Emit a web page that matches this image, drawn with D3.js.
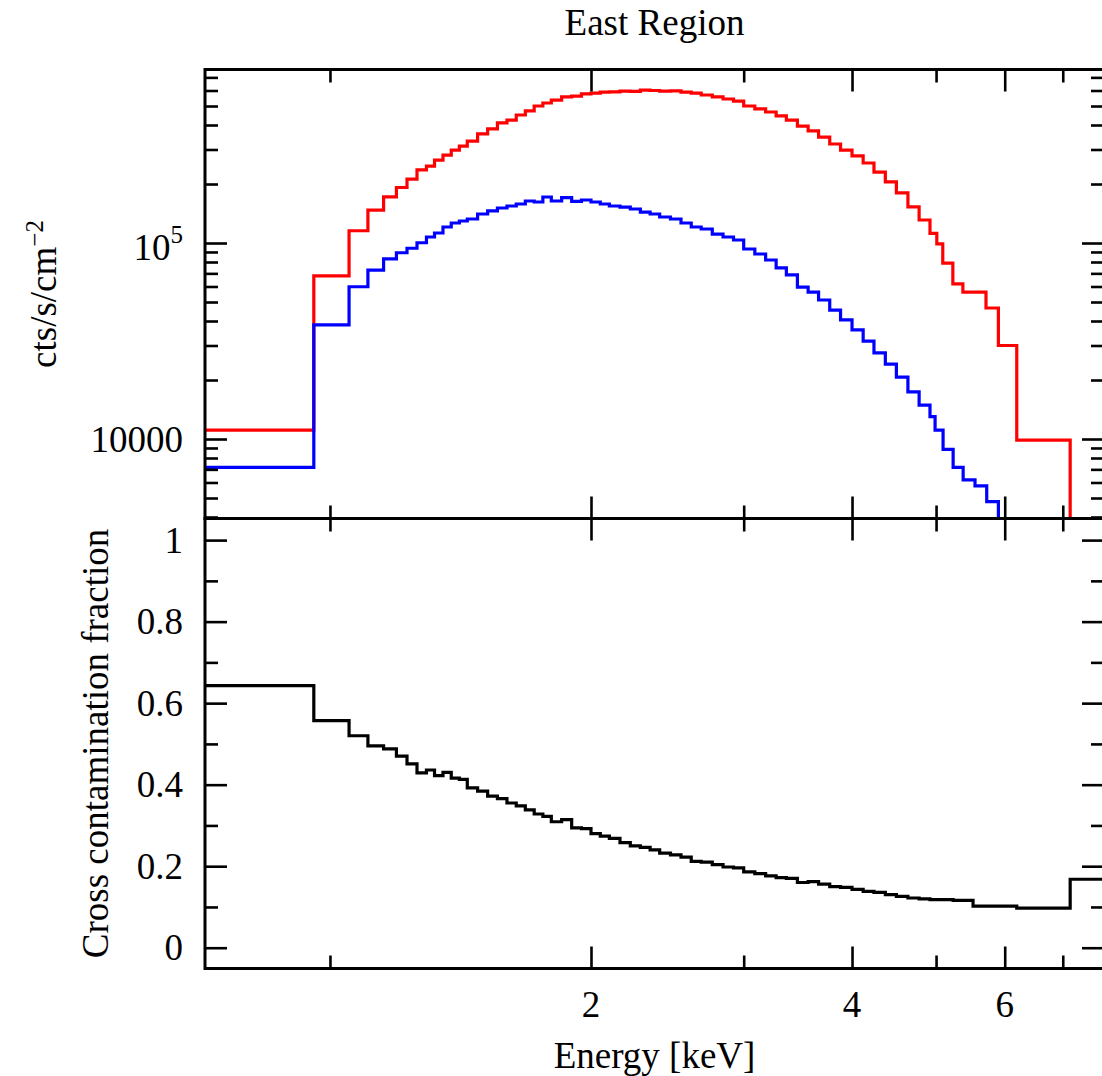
<!DOCTYPE html>
<html>
<head>
<meta charset="utf-8">
<script src="https://cdn.jsdelivr.net/npm/d3@7"></script>
<style>
  body { margin: 0; background: #fff; }
  svg, svg text, svg tspan { font-family: "Liberation Serif", "Times New Roman", Times, serif; }
</style>
</head>
<body>
<div id="chart"></div>
<script>
// bin edges (keV) shared by all three curves up to 4.92 keV
var binEdges = [0.7176, 0.958, 1.052, 1.106, 1.153, 1.193, 1.227, 1.26, 1.292,
  1.32, 1.35, 1.38, 1.41, 1.44, 1.48, 1.52, 1.56, 1.60, 1.64, 1.68, 1.72, 1.76, 1.80,
  1.85, 1.90, 1.95, 2.00, 2.05, 2.10, 2.16, 2.22, 2.28, 2.34, 2.40, 2.47, 2.54, 2.61,
  2.68, 2.76, 2.84, 2.92, 3.00, 3.09, 3.18, 3.27, 3.36, 3.46, 3.56, 3.66, 3.77, 3.88,
  4.00, 4.12, 4.24, 4.37, 4.50, 4.64, 4.78, 4.92];

// high energy bins differ for each curve
var redTailEdges = [5.01, 5.09, 5.228, 5.369, 5.709, 5.90, 6.195, 7.139, 7.81];
var blueTailEdges = [4.987, 5.094, 5.232, 5.373, 5.545, 5.72, 5.90, 7.81];
var fracTailEdges = [5.232, 5.516, 6.195, 7.139, 7.81];

var redRate = [11100, 67900, 115500, 147000, 172000, 192000, 212000, 236000,
  247000, 265000, 281000, 298000, 312000, 331000, 360000, 382000, 410000, 424000,
  450000, 472000, 500000, 518000, 536000, 556000, 562000, 576000, 582000, 589000,
  590000, 596000, 594000, 603000, 600000, 596000, 597000, 589000, 582000, 569000,
  556000, 543000, 530000, 500000, 483000, 466000, 445000, 424000, 395000, 373000,
  347000, 320000, 298000, 278000, 256000, 230000, 205000, 180000, 153000, 131000,
  112000, 99000, 79000, 61800, 56200, 46600, 30000, 9880, 3000];

var blueRate = [7170, 38200, 59800, 72800, 82900, 89200, 94000, 100300,
  107300, 112500, 120700, 126500, 129500, 132600, 140600, 145700, 150900, 154500,
  158100, 163800, 161900, 171700, 163800, 170500, 163000, 165700, 161900, 158100,
  154500, 152600, 149100, 143900, 140600, 135700, 132600, 126500, 120700, 117900,
  111100, 107300, 103600, 93200, 87900, 81900, 74600, 68700, 59600, 56200,
  51200, 45500, 40500, 36000, 31600, 27500, 24100, 20700, 17400, 14900,
  13000, 11100, 8860, 7170, 6180, 5760, 4790, 2500];

var fraction = [0.643, 0.557, 0.520, 0.495, 0.488, 0.470, 0.451, 0.429,
  0.436, 0.422, 0.430, 0.416, 0.413, 0.392, 0.384, 0.372, 0.366, 0.355,
  0.348, 0.338, 0.328, 0.322, 0.309, 0.314, 0.294, 0.292, 0.280, 0.274,
  0.268, 0.258, 0.250, 0.246, 0.240, 0.232, 0.228, 0.222, 0.212, 0.210,
  0.204, 0.198, 0.196, 0.186, 0.182, 0.176, 0.172, 0.170, 0.160, 0.162,
  0.156, 0.150, 0.148, 0.143, 0.138, 0.136, 0.130, 0.126, 0.122, 0.120,
  0.118, 0.116, 0.102, 0.097, 0.168];

var xMajor = [2, 4, 6];
var xMinor = [1, 3, 5, 7];
var rateMajor = [10000, 100000];
var rateMinor = [4000, 5000, 6000, 7000, 8000, 9000,
  20000, 30000, 40000, 50000, 60000, 70000, 80000, 90000,
  200000, 300000, 400000, 500000, 600000, 700000];
var fracMajor = [0, 0.2, 0.4, 0.6, 0.8, 1];
var fracMinor = [0.1, 0.3, 0.5, 0.7, 0.9];

function init() {

  var width = 1102;
  var height = 1076;
  var left = 205, right = 1104;
  var top1 = 69.5, bot1 = 518.5, top2 = 518.5, bot2 = 968.5;
  var fontSize = 37;
  var serif = "'Liberation Serif', 'Times New Roman', Times, serif";

  var x = d3.scaleLog().domain([0.7176, 7.81]).range([left, right]);
  var yRate = d3.scaleLog().domain([3930, 767800]).range([bot1, top1]);
  var yFrac = d3.scaleLinear().domain([-0.051, 1.053]).range([bot2, top2]);

  var svg = d3.select("#chart")
    .append("svg")
    .attr("width", width)
    .attr("height", height)
    .attr("font-family", serif);

  svg.append("rect").attr("width", width).attr("height", height).attr("fill", "#fff");

  var defs = svg.append("defs");
  defs.append("clipPath").attr("id", "clipTop")
    .append("rect").attr("x", left).attr("y", top1)
    .attr("width", right - left).attr("height", bot1 - top1);
  defs.append("clipPath").attr("id", "clipBot")
    .append("rect").attr("x", left).attr("y", top2)
    .attr("width", right - left).attr("height", bot2 - top2);

  function steps(edges, values) {
    var pts = values.map(function(v, i) { return [edges[i], v]; });
    pts.push([edges[values.length], values[values.length - 1]]);
    return pts;
  }

  function drawSteps(yScale, clip, edges, values, color) {
    var line = d3.line()
      .x(function(d) { return x(d[0]); })
      .y(function(d) { return yScale(d[1]); })
      .curve(d3.curveStepAfter);
    svg.append("path")
      .datum(steps(edges, values))
      .attr("clip-path", "url(#" + clip + ")")
      .attr("fill", "none")
      .attr("stroke", color)
      .attr("stroke-width", 3.2)
      .attr("d", line);
  }

  drawSteps(yRate, "clipTop", binEdges.concat(redTailEdges), redRate, "#ff0000");
  drawSteps(yRate, "clipTop", binEdges.concat(blueTailEdges), blueRate, "#0000ff");
  drawSteps(yFrac, "clipBot", binEdges.concat(fracTailEdges), fraction, "#000");

  // ticks, all pointing inwards
  function tickAxis(axis, values, size, tx, ty) {
    var g = svg.append("g")
      .attr("transform", "translate(" + tx + "," + ty + ")")
      .call(axis.tickValues(values).tickSize(-size).tickFormat(""));
    g.select(".domain").remove();
    g.selectAll(".tick line").attr("stroke", "#000").attr("stroke-width", 2.6);
    return g;
  }

  [[top1, bot1], [top2, bot2]].forEach(function(p) {
    tickAxis(d3.axisTop(x), xMajor, 22, 0, p[0]);
    tickAxis(d3.axisTop(x), xMinor, 13, 0, p[0]);
    tickAxis(d3.axisBottom(x), xMajor, 22, 0, p[1]);
    tickAxis(d3.axisBottom(x), xMinor, 13, 0, p[1]);
  });

  tickAxis(d3.axisLeft(yRate), rateMajor, 22, left, 0);
  tickAxis(d3.axisLeft(yRate), rateMinor, 13, left, 0);
  tickAxis(d3.axisRight(yRate), rateMajor, 22, right, 0);
  tickAxis(d3.axisRight(yRate), rateMinor, 13, right, 0);

  tickAxis(d3.axisLeft(yFrac), fracMajor, 22, left, 0);
  tickAxis(d3.axisLeft(yFrac), fracMinor, 13, left, 0);
  tickAxis(d3.axisRight(yFrac), fracMajor, 22, right, 0);
  tickAxis(d3.axisRight(yFrac), fracMinor, 13, right, 0);

  // frames
  svg.append("rect")
    .attr("x", left).attr("y", top1)
    .attr("width", right - left).attr("height", bot1 - top1)
    .attr("fill", "none").attr("stroke", "#000").attr("stroke-width", 3);
  svg.append("rect")
    .attr("x", left).attr("y", top2)
    .attr("width", right - left).attr("height", bot2 - top2)
    .attr("fill", "none").attr("stroke", "#000").attr("stroke-width", 3);

  function label(sel) {
    return sel.attr("font-family", serif).attr("font-size", fontSize).attr("fill", "#000");
  }

  // x tick labels
  svg.selectAll(".xlab")
    .data(xMajor)
    .enter()
    .append("text")
    .call(label)
    .attr("x", function(d) { return x(d); })
    .attr("y", bot2 + 48.5)
    .attr("text-anchor", "middle")
    .text(function(d) { return d; });

  // fraction tick labels
  svg.selectAll(".flab")
    .data(fracMajor)
    .enter()
    .append("text")
    .call(label)
    .attr("x", left - 22)
    .attr("y", function(d) { return yFrac(d) + 12.5; })
    .attr("text-anchor", "end")
    .text(function(d) { return String(d); });

  // rate tick labels
  svg.append("text")
    .call(label)
    .attr("x", left - 22)
    .attr("y", yRate(10000) + 12.5)
    .attr("text-anchor", "end")
    .text("10000");

  var lab5 = svg.append("text")
    .call(label)
    .attr("x", left - 22)
    .attr("y", yRate(100000) + 17)
    .attr("text-anchor", "end");
  lab5.append("tspan").text("10");
  lab5.append("tspan").attr("font-size", 25).attr("dy", -17).text("5");

  // titles
  svg.append("text")
    .call(label)
    .attr("x", (left + right) / 2)
    .attr("y", 35)
    .attr("text-anchor", "middle")
    .text("East Region");

  svg.append("text")
    .call(label)
    .attr("x", (left + right) / 2)
    .attr("y", 1068)
    .attr("text-anchor", "middle")
    .text("Energy [keV]");

  var yl = svg.append("text")
    .call(label)
    .attr("transform", "translate(56," + ((top1 + bot1) / 2) + ") rotate(-90)")
    .attr("text-anchor", "middle");
  yl.append("tspan").text("cts/s/cm");
  yl.append("tspan").attr("font-size", 25).attr("dy", -13).text("\u22122");

  svg.append("text")
    .call(label)
    .attr("transform", "translate(108," + ((top2 + bot2) / 2) + ") rotate(-90)")
    .attr("text-anchor", "middle")
    .text("Cross contamination fraction");
}

window.onload = init;
</script>
</body>
</html>
